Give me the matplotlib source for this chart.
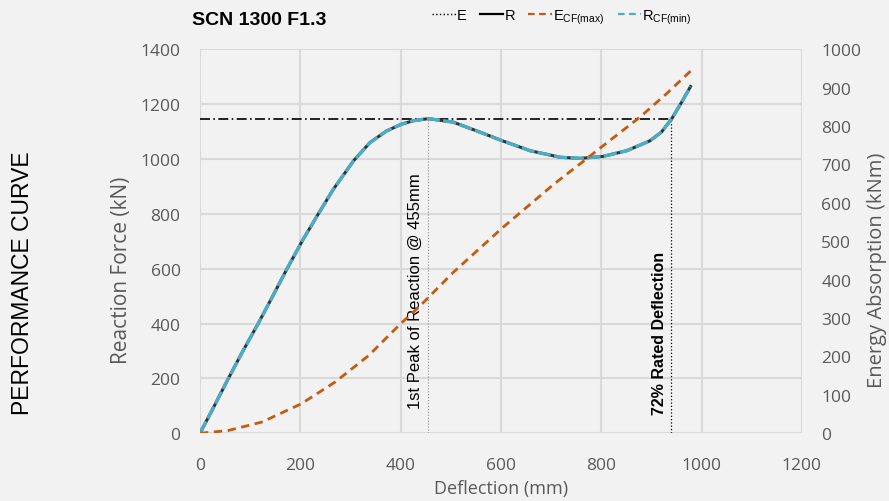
import matplotlib.pyplot as plt
from matplotlib.lines import Line2D

plt.rcParams['font.family'] = ['Open Sans', 'DejaVu Sans']

# reaction force curve
defl_r = [0, 30, 56, 85, 116, 145, 173, 205, 236, 266, 306, 339, 372, 402, 425, 455,
          505, 552, 603, 658, 718, 758, 803, 851, 897, 920, 940, 960, 978]
force_r = [0, 105, 198, 298, 400, 500, 598, 705, 800, 890, 993, 1060, 1102, 1127, 1139, 1147,
           1134, 1102, 1066, 1030, 1006, 1002, 1009, 1030, 1066, 1098, 1145, 1206, 1264]

# energy absorption curve
defl_e = [0, 56, 123, 201, 269, 336, 399, 439, 505, 603, 705, 771, 803, 877, 930, 978]
energy_e = [0, 7, 29, 76, 133, 202, 284, 332, 419, 535, 648, 715, 748, 823, 884, 943]

peak_defl = 455
peak_force = 1147
rated_defl = 940

x_ticks = [0, 200, 400, 600, 800, 1000, 1200]
y_ticks = [0, 200, 400, 600, 800, 1000, 1200, 1400]
e_ticks = [0, 100, 200, 300, 400, 500, 600, 700, 800, 900, 1000]

bg = '#f2f2f2'
grid_c = '#d9d9d9'
txt_c = '#595959'
orange = '#c55a11'
cyan = '#4bacc6'

fig = plt.figure(figsize=(8.89, 5.02), dpi=100, facecolor=bg)
ax = fig.add_axes([0.225, 0.135, 0.677, 0.765])
ax.set_facecolor(bg)
ax2 = ax.twinx()

ax.set_xlim(0, 1200)
ax.set_ylim(0, 1400)
ax2.set_ylim(0, 1000)
ax.set_xticks(x_ticks)
ax.set_yticks(y_ticks)
ax2.set_yticks(e_ticks)

ax.grid(True, color=grid_c, lw=1.5)
ax.set_axisbelow(True)
for a in (ax, ax2):
    for s in a.spines.values():
        s.set_visible(False)
    a.tick_params(length=0, labelsize=12.5, labelcolor=txt_c, pad=14)
ax.tick_params(axis='x', pad=17)

# reference lines
ax.plot([0, rated_defl], [peak_force, peak_force], color='black', lw=1.2,
        dashes=(6, 2, 1, 2), zorder=3)
ax.plot([peak_defl, peak_defl], [0, peak_force], color='#8c8c8c', lw=0.8, ls=':', zorder=3)
ax.plot([rated_defl, rated_defl], [0, peak_force], color='black', lw=0.9, ls=':', zorder=3)

# curves (E is hidden under E_CF(max), so only the dashed one shows)
ax2.plot(defl_e, energy_e, color=orange, lw=2.0, dashes=(3, 2), zorder=5)
ax.plot(defl_r, force_r, color='#333333', lw=2.2, zorder=4)
ax.plot(defl_r, force_r, color=cyan, lw=2.4, dashes=(4, 1), zorder=5)

ax.text(430, 522, '1st Peak of Reaction @ 455mm', rotation=90, ha='center', va='center',
        fontsize=12, color='black', family=['Liberation Sans', 'DejaVu Sans'])
ax.text(916, 366, '72% Rated Deflection', rotation=90, ha='center', va='center',
        fontsize=11.5, color='black', fontweight='bold',
        family=['Liberation Sans Narrow', 'Liberation Sans', 'DejaVu Sans'])

ax.set_xlabel('Deflection (mm)', fontsize=13, color=txt_c)
ax.xaxis.set_label_coords(0.5, -0.12)
ax.set_ylabel('Reaction Force (kN)', fontsize=15, color=txt_c)
ax.yaxis.set_label_coords(-0.113, 0.427)
ax2.set_ylabel('Energy Absorption (kNm)', fontsize=14.5, color=txt_c)
ax2.yaxis.set_label_coords(1.108, 0.427)

fig.text(0.025, 0.435, 'PERFORMANCE CURVE', rotation=90, ha='center', va='center',
         fontsize=16.5, color='black', family=['Liberation Sans', 'DejaVu Sans'])
fig.text(0.216, 0.96, 'SCN 1300 F1.3', ha='left', va='center', fontsize=14,
         fontweight='bold', color='black',
         family=['Liberation Sans Narrow', 'Liberation Sans', 'DejaVu Sans'])

handles = [
    Line2D([], [], color='black', lw=1.0, ls=':'),
    Line2D([], [], color='black', lw=1.6),
    Line2D([], [], color=orange, lw=1.6, dashes=(3, 2)),
    Line2D([], [], color=cyan, lw=1.6, dashes=(3, 2)),
]
labels = ['E', 'R', r'E$_{\mathregular{CF(max)}}$', r'R$_{\mathregular{CF(min)}}$']
fig.legend(handles, labels, loc='center', bbox_to_anchor=(0.632, 0.965), ncol=4,
           frameon=False, handlelength=1.6, handletextpad=0.1, columnspacing=0.9,
           prop={'family': ['Liberation Sans Narrow', 'Liberation Sans', 'DejaVu Sans'],
                 'size': 10.5})

fig.savefig('out.png', dpi=100, facecolor=bg)
